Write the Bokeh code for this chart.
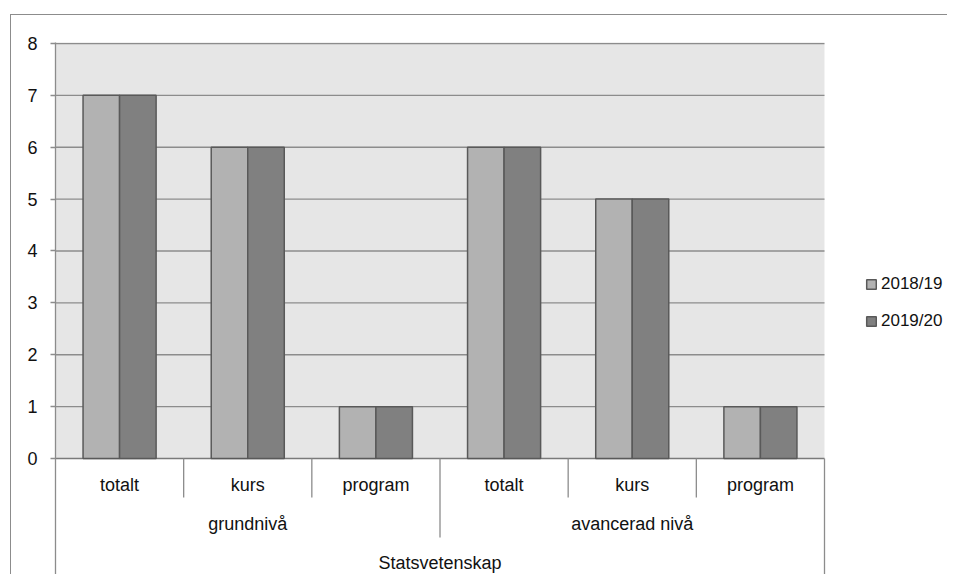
from bokeh.plotting import figure
from bokeh.models import Range1d, FixedTicker, Legend, LegendItem
from bokeh.core.properties import value
from bokeh.embed import file_html
from bokeh.resources import INLINE
import numpy as np

# ---- data ----
top_level = ["Statsvetenskap"]
groups = ["grundnivå", "avancerad nivå"]
subcats = ["totalt", "kurs", "program", "totalt", "kurs", "program"]
series_names = ["2018/19", "2019/20"]
vals_2018 = [7, 6, 1, 6, 5, 1]
vals_2019 = [7, 6, 1, 6, 5, 1]
y_ticks = [0, 1, 2, 3, 4, 5, 6, 7, 8]

# ---- style ----
FONT = "Liberation Sans Narrow, Liberation Sans"
LINE = "#8c8c8c"
DARKLINE = "#7a7a7a"
BG = "#e6e6e6"
C1 = "#b2b2b2"
C2 = "#808080"
OUTL = "#595959"
TXT = "#111111"

n = len(subcats)
per_group = n // len(groups)
centers = np.arange(n) + 0.5
ymax = max(y_ticks)

y_bottom = -2.255
p = figure(width=937, height=560, output_backend="svg", toolbar_location=None,
           x_range=Range1d(0, 6.9675), y_range=Range1d(y_bottom, 8.019),
           x_axis_location=None,
           min_border_left=44, min_border_top=27, min_border_bottom=0, min_border_right=0)
p.styles = {"margin-top": "14px", "margin-left": "10px",
            "border-top": "1px solid #8c8c8c", "border-left": "1px solid #8c8c8c"}
p.outline_line_color = None
p.xgrid.visible = False
p.ygrid.visible = False

# plot area background
p.quad(left=0, right=n, bottom=0, top=ymax, fill_color=BG, line_color=None)
# grid lines
gy = y_ticks[1:]
p.segment(x0=[0] * len(gy), x1=[n] * len(gy), y0=gy, y1=gy, line_color=LINE, line_width=1.3)
p.segment(x0=[0], x1=[n], y0=[0], y1=[0], line_color=DARKLINE, line_width=1.3)

# bars
bw = 0.285
r1 = p.vbar(x=centers - bw / 2, width=bw, top=vals_2018, bottom=0,
            fill_color=C1, line_color=OUTL, line_width=1.5)
r2 = p.vbar(x=centers + bw / 2, width=bw, top=vals_2019, bottom=0,
            fill_color=C2, line_color=OUTL, line_width=1.5)

# category table separators
row1_bottom = -0.752
row2_bottom = -1.523
inner = [i for i in range(1, n) if i % per_group != 0]
outer_grp = [i for i in range(1, n) if i % per_group == 0]
p.segment(x0=inner, x1=inner, y0=[0] * len(inner), y1=[row1_bottom] * len(inner),
          line_color=LINE, line_width=1.3)
p.segment(x0=outer_grp, x1=outer_grp, y0=[0] * len(outer_grp), y1=[row2_bottom] * len(outer_grp),
          line_color=LINE, line_width=1.3)
p.segment(x0=[n], x1=[n], y0=[0], y1=[y_bottom], line_color=LINE, line_width=1.3)

# category labels
p.text(x=centers, y=[-0.52] * n, text=subcats, text_align="center", text_baseline="middle",
       text_font=value(FONT), text_font_size="18px", text_color=TXT)
gx = [g * per_group + per_group / 2 for g in range(len(groups))]
p.text(x=gx, y=[-1.27] * len(groups), text=groups, text_align="center", text_baseline="middle",
       text_font=value(FONT), text_font_size="18px", text_color=TXT)
p.text(x=[n / 2], y=[-2.02], text=top_level, text_align="center", text_baseline="middle",
       text_font=value(FONT), text_font_size="18px", text_color=TXT)

# y axis
ax = p.yaxis[0]
ax.ticker = FixedTicker(ticks=y_ticks)
ax.minor_tick_line_color = None
ax.major_tick_out = 5
ax.major_tick_in = 0
ax.axis_line_color = LINE
ax.axis_line_width = 1.3
ax.major_tick_line_color = LINE
ax.major_tick_line_width = 1.3
ax.major_label_text_font = FONT
ax.major_label_text_font_size = "18px"
ax.major_label_text_color = TXT
ax.major_label_standoff = 13

legend = Legend(items=[LegendItem(label=series_names[0], renderers=[r1]),
                       LegendItem(label=series_names[1], renderers=[r2])],
                location=(810, 244), orientation="vertical",
                glyph_width=12, glyph_height=12, label_standoff=4, spacing=17,
                padding=0, margin=0, border_line_color=None, background_fill_alpha=0,
                label_text_font=FONT, label_text_font_size="17px", label_text_color=TXT)
p.add_layout(legend)

open("out.html", "w").write(file_html(p, INLINE))
